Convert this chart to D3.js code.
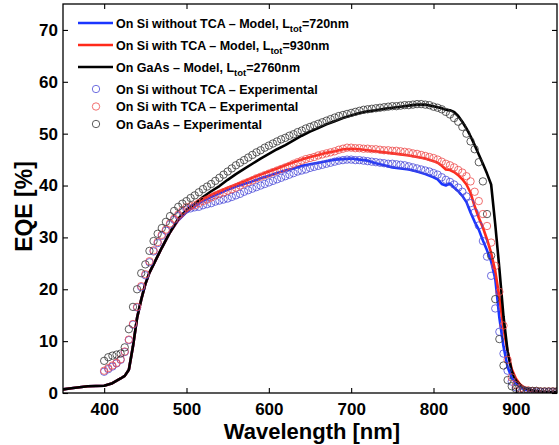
<!DOCTYPE html>
<html><head><meta charset="utf-8">
<script src="https://cdn.jsdelivr.net/npm/d3@7"></script>
<style>
html,body{margin:0;padding:0;background:#fff;}
svg text{font-family:"Liberation Sans",Arial,Helvetica,sans-serif;font-weight:bold;fill:#000;}
</style></head>
<body><svg id="c" width="559" height="445"></svg>
<script>
// ---------- data ----------
const xTicks = [400, 500, 600, 700, 800, 900];
const yTicks = [0, 10, 20, 30, 40, 50, 60, 70];

const modelWl = [350,360,370,380,390,400,410,420,425,430,435,440,445,450,455,460,
  470,480,490,500,510,520,530,540,550,560,570,580,590,600,610,620,630,640,650,660,670,680,690,700,
  710,720,730,740,750,760,770,780,790,800,
  805,810,815,820,825,830,835,840,845,850,855,860,865,870,875,880,885,890,895,900,905,910,
  920,930,940,950];

const modelGaAs = [0.7,0.9,1.1,1.3,1.35,1.4,1.9,2.8,3.3,4.5,9.0,14.5,18.0,21.0,23.2,24.8,
  28.0,31.0,33.6,35.3,36.5,37.8,38.9,39.9,41.1,42.2,43.2,44.2,45.2,46.1,47.0,47.8,48.7,49.6,50.4,51.1,51.8,52.4,53.0,53.5,
  54.0,54.3,54.5,54.8,55.0,55.2,55.4,55.6,55.6,55.3,
  55.1,54.9,54.6,54.5,54.2,53.4,52.3,51.0,49.5,47.8,46.0,44.2,42.3,40.2,32.5,24.0,14.8,8.0,4.2,2.4,1.6,1.0,
  0.5,0.3,0.2,0.2];

const modelSiTCA = [0.7,0.9,1.1,1.3,1.35,1.4,1.9,2.8,3.3,4.5,9.0,14.5,18.0,21.0,23.2,24.8,
  28.0,31.0,33.4,35.0,36.2,37.4,38.2,38.9,39.6,40.2,40.8,41.5,42.1,42.7,43.3,43.9,44.5,45.0,45.5,45.9,46.3,46.6,47.0,47.1,
  47.0,46.8,46.6,46.4,46.2,46.0,45.8,45.5,45.2,44.7,
  44.4,43.8,43.1,43.0,42.6,42.0,41.2,40.2,38.6,36.0,33.8,31.9,29.6,27.0,23.5,18.5,12.5,8.0,4.6,2.8,1.7,1.0,
  0.4,0.2,0.1,0.1];

const modelSiNoTCA = [0.7,0.9,1.1,1.3,1.35,1.4,1.9,2.8,3.3,4.5,9.0,14.5,18.0,21.0,23.2,24.8,
  28.0,31.0,33.3,34.9,36.0,37.1,37.8,38.5,39.2,39.8,40.3,40.8,41.4,41.9,42.4,42.9,43.3,43.8,44.1,44.4,44.7,45.0,45.1,45.2,
  45.0,44.8,44.3,43.9,43.5,43.3,43.1,42.7,42.2,41.6,
  41.2,40.3,40.0,40.4,39.6,38.9,38.0,36.8,34.8,33.0,31.5,29.4,27.5,25.4,22.0,14.5,9.0,5.0,3.0,1.9,1.2,0.7,
  0.3,0.2,0.1,0.1];

const expWl = [400,405,410,415,420,425,430,435,440,445,
  450,455,460,465,470,475,480,485,490,495,
  500,505,510,515,520,525,530,535,540,545,
  550,555,560,565,570,575,580,585,590,595,
  600,605,610,615,620,625,630,635,640,645,
  650,655,660,665,670,675,680,685,690,695,
  700,705,710,715,720,725,730,735,740,745,
  750,755,760,765,770,775,780,785,790,795,
  800,805,810,815,820,825,830,835,840,845,
  850,855,860,865,870,875,880,885,890,895,
  900,905,910,915,920,925,930,935,940,945,
  950];

const expGaAs = [6.2,6.9,7.2,7.4,7.6,8.8,12.3,16.6,20.0,23.1,
  24.8,27.4,29.3,30.7,31.8,33.0,34.1,35.1,35.9,36.5,
  37.0,37.6,38.1,38.7,39.3,39.8,40.3,40.9,41.5,42.1,
  42.7,43.3,43.9,44.4,44.9,45.4,45.9,46.4,46.8,47.3,
  47.7,48.1,48.5,48.9,49.2,49.6,49.9,50.3,50.6,51.0,
  51.3,51.6,51.9,52.2,52.5,52.8,53.1,53.4,53.6,53.8,
  54.0,54.2,54.4,54.6,54.7,54.8,54.9,55.0,55.1,55.2,
  55.3,55.3,55.4,55.5,55.5,55.6,55.7,55.7,55.6,55.5,
  55.2,55.0,54.7,54.2,53.7,53.0,52.3,51.3,50.0,48.5,
  47.0,44.5,40.8,34.5,26.5,18.1,10.4,5.3,2.5,1.3,
  0.8,0.6,0.5,0.4,0.4,0.4,0.3,0.3,0.3,0.3,
  0.3];

const expSiTCA = [4.3,4.8,5.3,5.8,6.5,8.0,10.3,13.3,16.6,20.6,
  22.9,25.4,27.5,29.1,30.5,31.5,32.7,33.6,34.4,35.2,
  35.8,36.0,36.2,36.6,37.0,37.3,37.7,38.1,38.4,38.7,
  39.0,39.3,39.6,40.0,40.4,40.7,41.0,41.4,41.7,42.0,
  42.3,42.6,42.9,43.2,43.5,43.8,44.2,44.5,44.8,45.1,
  45.3,45.5,45.8,46.0,46.2,46.4,46.6,46.9,47.1,47.3,
  47.3,47.2,47.2,47.1,47.1,47.0,47.0,46.9,46.8,46.8,
  46.7,46.7,46.6,46.5,46.4,46.2,46.1,45.9,45.7,45.5,
  45.3,45.0,44.6,44.2,43.9,43.5,43.0,42.5,41.8,40.8,
  38.8,37.0,34.5,32.2,29.0,24.5,19.5,13.0,6.4,3.0,
  1.5,0.9,0.6,0.5,0.4,0.4,0.3,0.3,0.3,0.3,
  0.3];

const expSiNoTCA = [4.1,4.6,5.1,5.7,6.4,7.9,10.2,13.2,16.5,20.4,
  22.7,25.2,27.3,28.9,30.3,31.3,32.5,33.4,34.2,34.9,
  35.4,35.6,35.8,35.9,36.2,36.4,36.6,36.9,37.1,37.3,
  37.5,37.8,38.1,38.4,38.8,39.1,39.4,39.7,40.0,40.3,
  40.6,40.9,41.2,41.5,41.8,42.1,42.4,42.7,42.9,43.1,
  43.4,43.6,43.8,44.0,44.2,44.4,44.6,44.8,44.9,45.0,
  45.0,44.9,44.9,44.8,44.7,44.6,44.5,44.4,44.3,44.2,
  44.2,44.1,44.0,43.9,43.7,43.5,43.3,43.1,42.9,42.7,
  42.4,42.1,41.6,41.1,40.7,40.2,39.6,38.8,37.9,36.6,
  34.8,32.3,29.3,26.3,22.6,16.3,11.8,7.6,4.3,2.2,
  1.1,0.6,0.4,0.3,0.3,0.2,0.2,0.2,0.2,0.2,
  0.2];

const lineSeries = [
  {name:"On Si without TCA \u2013 Model, L", sub:"tot", tail:"=720nm", wl:modelWl, v:modelSiNoTCA, color:"#1a35ff"},
  {name:"On Si with TCA \u2013 Model, L", sub:"tot", tail:"=930nm", wl:modelWl, v:modelSiTCA, color:"#ff2a1a"},
  {name:"On GaAs \u2013 Model, L", sub:"tot", tail:"=2760nm", wl:modelWl, v:modelGaAs, color:"#000000"}
];
const expSeries = [
  {name:"On Si without TCA \u2013 Experimental", wl:expWl, v:expSiNoTCA, color:"#4a4ad8"},
  {name:"On Si with TCA \u2013 Experimental", wl:expWl, v:expSiTCA, color:"#ee4b4b"},
  {name:"On GaAs \u2013 Experimental", wl:expWl, v:expGaAs, color:"#333333"}
];

// ---------- layout ----------
const L = 63, R = 557, T = 4, B = 393;
const svg = d3.select("#c");
const x = d3.scaleLinear().domain([350, 950]).range([L, R]);
const y = d3.scaleLinear().domain([0, 75]).range([B, T]);

svg.append("defs").append("clipPath").attr("id","clip")
  .append("rect").attr("x",L).attr("y",T).attr("width",R-L).attr("height",B-T);

const plot = svg.append("g").attr("clip-path","url(#clip)");

// model lines
const line = d3.line().x(d=>x(d[0])).y(d=>y(d[1]));
lineSeries.forEach(s=>{
  plot.append("path").datum(s.wl.map((w,i)=>[w,s.v[i]]))
    .attr("d",line).attr("fill","none").attr("stroke",s.color)
    .attr("stroke-width",2.6).attr("stroke-linejoin","round");
});
// experimental circles
expSeries.forEach(s=>{
  plot.append("g").selectAll("circle").data(s.wl.map((w,i)=>[w,s.v[i]]))
    .join("circle").attr("cx",d=>x(d[0])).attr("cy",d=>y(d[1])).attr("r",3.7)
    .attr("fill","none").attr("stroke",s.color).attr("stroke-width",0.8);
});

// axes
const tickLen = 5;
const axB = svg.append("g").attr("transform",`translate(0,${B})`)
  .call(d3.axisBottom(x).tickValues(xTicks).tickSize(-tickLen).tickPadding(9.5).tickFormat(d3.format("d")));
const axT = svg.append("g").attr("transform",`translate(0,${T})`)
  .call(d3.axisTop(x).tickValues(xTicks).tickSize(-tickLen).tickFormat(""));
const axL = svg.append("g").attr("transform",`translate(${L},0)`)
  .call(d3.axisLeft(y).tickValues(yTicks).tickSize(-tickLen).tickPadding(5).tickFormat(d3.format("d")));
const axR = svg.append("g").attr("transform",`translate(${R},0)`)
  .call(d3.axisRight(y).tickValues(yTicks).tickSize(-tickLen).tickFormat(""));
[axB,axT,axL,axR].forEach(a=>{
  a.select(".domain").remove();
  a.selectAll(".tick line").attr("stroke","#000").attr("stroke-width",1.1);
  a.selectAll("text").style("font-size","17px").style("font-weight","bold").attr("fill","#000");
});
axB.selectAll("text").attr("dy","0.71em");
svg.append("rect").attr("x",L).attr("y",T).attr("width",R-L).attr("height",B-T)
  .attr("fill","none").attr("stroke","#000").attr("stroke-width",1.3);

// axis labels
svg.append("text").attr("x",(L+R)/2+2).attr("y",439).attr("text-anchor","middle")
  .style("font-size","22px").text("Wavelength [nm]");
svg.append("text").attr("transform",`translate(32,${(T+B)/2+8}) rotate(-90)`).attr("text-anchor","middle")
  .style("font-size","23px").text("EQE [%]");

// legend
const lg = svg.append("g");
const lineRows = [23, 45, 67];
const circRows = [89, 106.5, 124];
lineSeries.forEach((s,i)=>{
  const yy = lineRows[i];
  lg.append("line").attr("x1",78).attr("x2",113).attr("y1",yy).attr("y2",yy)
    .attr("stroke",s.color).attr("stroke-width",2.6);
  const t = lg.append("text").attr("x",116).attr("y",yy+4.5).style("font-size","12.5px");
  t.append("tspan").text(s.name);
  t.append("tspan").attr("dy",4).style("font-size","9.5px").text(s.sub);
  t.append("tspan").attr("dy",-4).text(s.tail);
});
expSeries.forEach((s,i)=>{
  const yy = circRows[i];
  lg.append("circle").attr("cx",96).attr("cy",yy).attr("r",3.7)
    .attr("fill","none").attr("stroke",s.color).attr("stroke-width",0.8);
  lg.append("text").attr("x",116).attr("y",yy+4.5).style("font-size","12.5px").text(s.name);
});
</script></body></html>
